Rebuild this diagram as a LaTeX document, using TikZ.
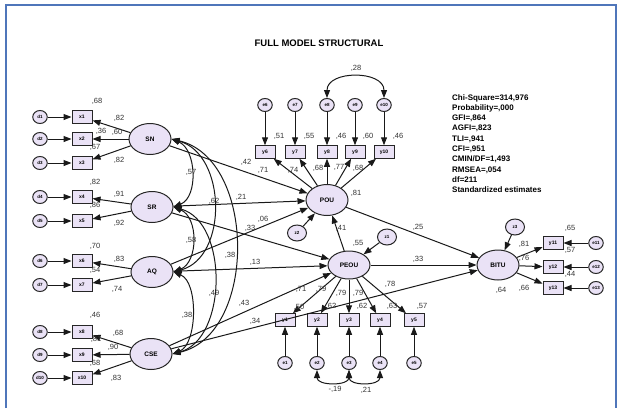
\documentclass[tikz,border=0pt]{standalone}
\usepackage{fontspec}
\setmainfont{Liberation Sans}
\usetikzlibrary{shapes.geometric,arrows.meta}
\definecolor{lav}{RGB}{234,226,246}
\definecolor{frameblue}{RGB}{79,118,186}

\tikzset{
	latent/.style={ellipse, draw=black!85, fill=lav, line width=1pt, minimum width=42pt, minimum height=31pt, inner sep=0pt, font=\fontsize{6.5}{6.5}\selectfont\bfseries},
	obs/.style={rectangle, draw=black!85, fill=lav, line width=1pt, minimum width=20pt, minimum height=12.5pt, inner sep=0pt, font=\fontsize{5}{5}\selectfont\bfseries},
	err/.style={ellipse, draw=black!85, fill=lav, line width=1pt, minimum width=14.5pt, minimum height=13pt, inner sep=0pt, font=\fontsize{4.5}{4.5}\selectfont\bfseries},
	dist/.style={err, minimum width=19pt, minimum height=16pt},
	est/.style={font=\fontsize{7.5}{7.5}\selectfont, inner sep=0pt, text=black!80},
	path/.style={-{Triangle[length=8pt,width=6pt]}, line width=1pt, draw=black!90},
	cov/.style={{Triangle[length=8pt,width=6pt]}-{Triangle[length=8pt,width=6pt]}, line width=1pt, draw=black!90},
}

\begin{document}
\begin{tikzpicture}[x=1pt,y=-1pt]
	\useasboundingbox (0,0) rectangle (621,408);
	\draw[frameblue, line width=1.2pt] (6,408) -- (6,5) -- (616,5) -- (616,408);
	
	\node[font=\fontsize{9.5}{10}\selectfont\bfseries] (title) at (319,43) {FULL MODEL STRUCTURAL};
	
	% latent variables
	\node[latent] (SN)  at (150,139) {SN};
	\node[latent] (SR)  at (152,207) {SR};
	\node[latent] (AQ)  at (152,272) {AQ};
	\node[latent] (CSE) at (151,354) {CSE};
	\node[latent] (POU) at (327,200) {POU};
	\node[latent, minimum height=28pt] (PEOU) at (349,265) {PEOU};
	\node[latent, minimum height=30pt] (BITU) at (498,265) {BITU};
	
	% exogenous indicators
	\foreach \i/\y in {1/117,2/139,3/163,4/197,5/221,6/261,7/285,8/332,9/355,10/378}{
		\node[obs] (x\i) at (82,\y) {x\i};
		\node[err] (d\i) at (40,\y) {d\i};
		\draw[path] (d\i) -- (x\i);
	}
	\foreach \lat/\i in {SN/1,SN/2,SN/3,SR/4,SR/5,AQ/6,AQ/7,CSE/8,CSE/9,CSE/10}{
		\draw[path] (\lat) -- (x\i);
	}
	
	% POU indicators
	\foreach \i/\x in {6/265,7/295,8/327,9/355,10/384}{
		\node[obs] (y\i) at (\x,152) {y\i};
		\node[err] (e\i) at (\x,105) {e\i};
		\draw[path] (e\i) -- (y\i);
		\draw[path] (POU) -- (y\i);
	}
	
	% PEOU indicators
	\foreach \i/\x in {1/285,2/317,3/349,4/380,5/414}{
		\node[obs] (y\i) at (\x,320) {y\i};
		\node[err] (e\i) at (\x,363) {e\i};
		\draw[path] (e\i) -- (y\i);
		\draw[path] (PEOU) -- (y\i);
	}
	
	% BITU indicators
	\foreach \i/\y in {11/243,12/267,13/288}{
		\node[obs] (y\i) at (553,\y) {y\i};
		\node[err] (e\i) at (596,\y) {e\i};
		\draw[path] (e\i) -- (y\i);
		\draw[path] (BITU) -- (y\i);
	}
	
	% disturbances
	\node[dist] (z1) at (387,237) {z1};
	\node[dist] (z2) at (297,233) {z2};
	\node[dist] (z3) at (515,227) {z3};
	\draw[path] (z1) -- (PEOU);
	\draw[path] (z2) -- (POU);
	\draw[path] (z3) -- (BITU);
	
	% structural paths
	\draw[path] (SN) -- (POU);
	\draw[path] (SR) -- (POU);
	\draw[path] (AQ) -- (POU);
	\draw[path] (SR) -- (PEOU);
	\draw[path] (AQ) -- (PEOU);
	\draw[path] (CSE) -- (PEOU);
	\draw[path] (CSE) -- (BITU);
	\draw[path] (PEOU) -- (POU);
	\draw[path] (POU) -- (BITU);
	\draw[path] (PEOU) -- (BITU);
	
	% correlations
	\draw[cov] (SN.east) .. controls +(25,10) and +(25,-10) .. (SR.east);
	\draw[cov] (SN.east) .. controls +(55,15) and +(55,-15) .. (AQ.east);
	\draw[cov] (SN.east) .. controls +(85,20) and +(85,-20) .. (CSE.east);
	\draw[cov] (SR.east) .. controls +(25,10) and +(25,-10) .. (AQ.east);
	\draw[cov] (SR.east) .. controls +(55,15) and +(55,-15) .. (CSE.east);
	\draw[cov] (AQ.east) .. controls +(25,10) and +(25,-10) .. (CSE.east);
	\draw[cov] (e8.north) .. controls +(0,-28) and +(0,-28) .. (e10.north);
	\draw[cov] (e2.south) .. controls +(0,16) and +(0,16) .. (e3.south);
	\draw[cov] (e3.south) .. controls +(0,16) and +(0,16) .. (e4.south);
	
	% estimates
	\foreach \pos/\val in {{(97,101)}/{,68},{(119,118)}/{,82},{(101,131)}/{,36},{(117,132)}/{,60},
		{(95,147)}/{,67},{(119,160)}/{,82},{(95,182)}/{,82},{(119,194)}/{,91},
		{(95,205)}/{,86},{(119,223)}/{,92},{(95,246)}/{,70},{(119,259)}/{,83},
		{(95,270)}/{,54},{(117,289)}/{,74},{(95,315)}/{,46},{(118,333)}/{,68},
		{(96,339)}/{,81},{(113,347)}/{,90},{(95,363)}/{,68},{(116,378)}/{,83}}{
		\node[est] at \pos {\val};
	}
	\foreach \pos/\val in {{(191,172)}/{,57},{(214,201)}/{,62},{(191,240)}/{,58},
		{(230,255)}/{,38},{(214,293)}/{,49},{(187,315)}/{,38},
		{(246,162)}/{,42},{(241,197)}/{,21},{(263,219)}/{,06},{(250,228)}/{,33},
		{(255,262)}/{,13},{(244,303)}/{,43},{(255,321)}/{,34},
		{(341,228)}/{,41},{(358,243)}/{,55},{(356,193)}/{,81},
		{(418,227)}/{,25},{(418,259)}/{,33},{(501,290)}/{,64}}{
		\node[est] at \pos {\val};
	}
	\foreach \pos/\val in {{(263,170)}/{,71},{(293,170)}/{,74},{(318,168)}/{,68},{(339,167)}/{,77},{(358,168)}/{,68},
		{(279,136)}/{,51},{(309,136)}/{,55},{(341,136)}/{,46},{(368,136)}/{,60},{(398,136)}/{,46},
		{(356,68)}/{,28},
		{(301,289)}/{,71},{(321,289)}/{,79},{(341,293)}/{,79},{(358,293)}/{,79},{(390,284)}/{,78},
		{(299,307)}/{,50},{(331,306)}/{,62},{(362,306)}/{,62},{(392,306)}/{,63},{(422,306)}/{,57},
		{(335,389)}/{-,19},{(366,390)}/{,21},
		{(524,244)}/{,81},{(524,258)}/{,76},{(524,288)}/{,66},
		{(570,228)}/{,65},{(570,250)}/{,57},{(570,274)}/{,44}}{
		\node[est] at \pos {\val};
	}
	
	% fit indices
	\node[anchor=north west, align=left, inner sep=0pt, font=\fontsize{8}{10.3}\selectfont\bfseries] (fit) at (452,94) {
		Chi-Square=314,976\\ Probability=,000\\ GFI=,864\\ AGFI=,823\\ TLI=,941\\
		CFI=,951\\ CMIN/DF=1,493\\ RMSEA=,054\\ df=211\\ Standardized estimates};
\end{tikzpicture}
\end{document}
